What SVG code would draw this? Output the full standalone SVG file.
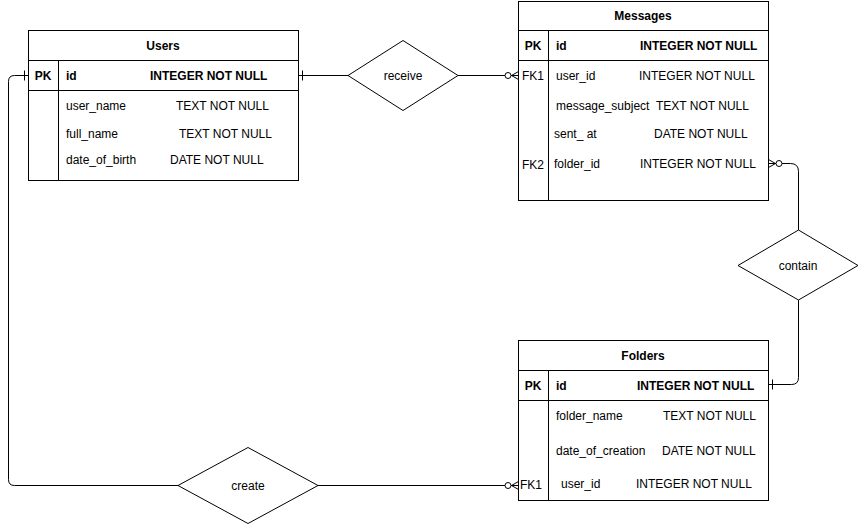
<svg xmlns="http://www.w3.org/2000/svg" width="859" height="526" viewBox="0 0 859 526">
  <defs>
    <style>
      .box { fill: #ffffff; stroke: #000000; stroke-width: 1; }
      .ln { fill: none; stroke: #000000; stroke-width: 1; }
      .rel { fill: #ffffff; stroke: #000000; stroke-width: 1; }
      text { font-family: "Liberation Sans", Arial, Helvetica, sans-serif; font-size: 12px; fill: #000000; }
      .b { font-weight: bold; }
      .c { text-anchor: middle; }
      .conn { fill: none; stroke: #000000; stroke-width: 1; }
    </style>
    <!-- exactly one: single bar across the line -->
    <marker id="one" markerUnits="userSpaceOnUse" orient="auto" markerWidth="20" markerHeight="20" refX="0" refY="0" viewBox="-10 -10 20 20" overflow="visible">
      <path d="M -4 -5 L -4 5" fill="none" stroke="#000000" stroke-width="1"/>
    </marker>
    <!-- zero or many: circle plus crow's foot -->
    <marker id="zeroMany" markerUnits="userSpaceOnUse" orient="auto" markerWidth="30" markerHeight="20" refX="0" refY="0" viewBox="-20 -10 30 20" overflow="visible">
      <path d="M -7 0 L 0 -4 M -7 0 L 0 4 M -7 0 L 0 0" fill="none" stroke="#000000" stroke-width="1"/>
      <circle cx="-10.5" cy="0" r="3" fill="#ffffff" stroke="#000000" stroke-width="1"/>
    </marker>
  </defs>

  <rect width="859" height="526" fill="#ffffff"/>

  <!-- connectors -->
  <g id="connectors">
    <path class="conn" d="M 348 75.5 L 298.5 75.5" marker-end="url(#one)"/>
    <path class="conn" d="M 458 75.5 L 518.5 75.5" marker-end="url(#zeroMany)"/>
    <path class="conn" d="M 798.5 230 L 798.5 171.5 Q 798.5 163.5 790.5 163.5 L 768.5 163.5" marker-end="url(#zeroMany)"/>
    <path class="conn" d="M 798.5 300 L 798.5 377.5 Q 798.5 384.5 791.5 384.5 L 768.5 384.5" marker-end="url(#one)"/>
    <path class="conn" d="M 178 485.5 L 14.5 485.5 Q 8.5 485.5 8.5 479.5 L 8.5 81.5 Q 8.5 75.5 14.5 75.5 L 28.5 75.5" marker-end="url(#one)"/>
    <path class="conn" d="M 318 485.5 L 518.5 485.5" marker-end="url(#zeroMany)"/>
  </g>

  <!-- Users table -->
  <g id="users">
    <rect class="box" x="28.5" y="30.5" width="270" height="150"/>
    <path class="ln" d="M 28.5 60.5 L 298.5 60.5 M 28.5 90.5 L 298.5 90.5 M 58.5 60.5 L 58.5 180.5"/>
    <text class="b c" x="163" y="50">Users</text>
    <text class="b c" x="43" y="80">PK</text>
    <text class="b" x="66" y="80">id</text>
    <text class="b" x="150" y="80">INTEGER NOT NULL</text>
    <text x="66" y="110">user_name</text>
    <text x="176" y="110">TEXT NOT NULL</text>
    <text x="66" y="138">full_name</text>
    <text x="179" y="138">TEXT NOT NULL</text>
    <text x="66" y="164">date_of_birth</text>
    <text x="170" y="164">DATE NOT NULL</text>
  </g>

  <!-- Messages table -->
  <g id="messages">
    <rect class="box" x="518.5" y="1.5" width="250" height="199"/>
    <path class="ln" d="M 518.5 30.5 L 768.5 30.5 M 518.5 60.5 L 768.5 60.5 M 548.5 30.5 L 548.5 200.5"/>
    <text class="b c" x="643" y="20">Messages</text>
    <text class="b c" x="533" y="50">PK</text>
    <text class="b" x="556" y="50">id</text>
    <text class="b" x="640" y="50">INTEGER NOT NULL</text>
    <text x="522" y="80">FK1</text>
    <text x="556" y="80">user_id</text>
    <text x="639" y="80">INTEGER NOT NULL</text>
    <text x="556" y="110">message_subject</text>
    <text x="656" y="110">TEXT NOT NULL</text>
    <text x="554" y="138">sent_ at</text>
    <text x="654" y="138">DATE NOT NULL</text>
    <text x="522" y="169">FK2</text>
    <text x="554" y="168">folder_id</text>
    <text x="640" y="168">INTEGER NOT NULL</text>
  </g>

  <!-- Folders table -->
  <g id="folders">
    <rect class="box" x="518.5" y="340.5" width="250" height="160"/>
    <path class="ln" d="M 518.5 370.5 L 768.5 370.5 M 518.5 400.5 L 768.5 400.5 M 548.5 370.5 L 548.5 500.5"/>
    <text class="b c" x="643" y="360">Folders</text>
    <text class="b c" x="533" y="390">PK</text>
    <text class="b" x="556" y="390">id</text>
    <text class="b" x="637" y="390">INTEGER NOT NULL</text>
    <text x="556" y="420">folder_name</text>
    <text x="663" y="420">TEXT NOT NULL</text>
    <text x="556" y="455">date_of_creation</text>
    <text x="662" y="455">DATE NOT NULL</text>
    <text x="520" y="489">FK1</text>
    <text x="561" y="488">user_id</text>
    <text x="636" y="488">INTEGER NOT NULL</text>
  </g>

  <!-- relationships -->
  <g id="receive">
    <polygon class="rel" points="403,40.5 458,75.5 403,110.5 348,75.5"/>
    <text class="c" x="403" y="80">receive</text>
  </g>
  <g id="contain">
    <polygon class="rel" points="798.5,230 858,265.5 798.5,300 738,265.5"/>
    <text class="c" x="798" y="270">contain</text>
  </g>
  <g id="create">
    <polygon class="rel" points="248,447.5 318,485.5 248,523.5 178,485.5"/>
    <text class="c" x="248" y="490">create</text>
  </g>
</svg>
